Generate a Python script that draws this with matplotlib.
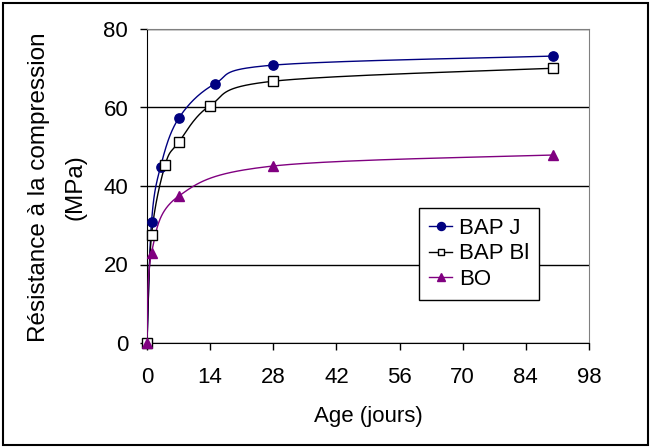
import numpy as np
import matplotlib
matplotlib.use("Agg")
import matplotlib.pyplot as plt
from matplotlib.patches import Rectangle

plt.rcParams['font.family'] = ['Liberation Sans', 'DejaVu Sans']

# data
jours_j = [0, 1, 3, 7, 15, 28, 90]
bap_j = [0, 30.8, 44.9, 57.2, 66.0, 70.8, 73.1]

jours_bl = [0, 1, 4, 7, 14, 28, 90]
bap_bl = [0, 27.5, 45.3, 51.1, 60.5, 66.7, 70.0]

jours_bo = [0, 1, 7, 28, 90]
bo = [0, 23.0, 37.4, 45.1, 47.9]

W, H = 651, 448


def lisse(x, y, n=40):
    # courbe lissee type Excel (Catmull-Rom en Bezier)
    x = np.asarray(x, float)
    y = np.asarray(y, float)
    xs, ys = [], []
    t = np.linspace(0, 1, n)
    for i in range(len(x) - 1):
        p0 = np.array([x[max(i - 1, 0)], y[max(i - 1, 0)]])
        p1 = np.array([x[i], y[i]])
        p2 = np.array([x[i + 1], y[i + 1]])
        p3 = np.array([x[min(i + 2, len(x) - 1)], y[min(i + 2, len(x) - 1)]])
        c1 = p1 + (p2 - p0) / 6
        c2 = p2 - (p3 - p1) / 6
        b = ((1 - t) ** 3)[:, None] * p1 + (3 * (1 - t) ** 2 * t)[:, None] * c1 \
            + (3 * (1 - t) * t ** 2)[:, None] * c2 + (t ** 3)[:, None] * p2
        xs.extend(b[:, 0])
        ys.extend(b[:, 1])
    return xs, ys


fig = plt.figure(figsize=(W / 100, H / 100), dpi=100)
ax = fig.add_axes([147 / W, 105 / H, 442 / W, 314 / H])

series = [
    (jours_j, bap_j, "#000080", "o", "#000080", 6.7, 5.8, "BAP J"),
    (jours_bl, bap_bl, "black", "s", "white", 7.2, 5.0, "BAP Bl"),
    (jours_bo, bo, "#800080", "^", "#800080", 7.0, 6.0, "BO"),
]
for x, y, c, m, fc, ms, ms_leg, lab in series:
    sx, sy = lisse(x, y)
    ax.plot(sx, sy, color=c, lw=1, zorder=3)
    ax.plot(x, y, ls="none", marker=m, color=c, mfc=fc, mec=c, ms=ms, mew=1,
            zorder=4, clip_on=False)
    ax.plot([], [], color=c, marker=m, mfc=fc, mec=c, ms=ms_leg, mew=1, lw=1, label=lab)

ax.set_xlim(0, 98)
ax.set_ylim(0, 80)
ax.set_xticks(np.arange(0, 99, 14))
ax.set_yticks([0, 20, 40, 60, 80])
ax.yaxis.grid(True, color="black", lw=1)
ax.set_axisbelow(True)

for s in ["top", "right"]:
    ax.spines[s].set_color("#808080")
for s in ["left", "bottom"]:
    ax.spines[s].set_color("black")
ax.tick_params(direction="out", length=5, width=1, labelsize=16)
ax.tick_params(axis="y", pad=8.5)
ax.tick_params(axis="x", pad=12)

ax.set_xlabel("Age (jours)", fontsize=16, labelpad=13)

# titre de l'axe Y sur deux lignes
fig.text(45 / W, 1 - 187 / H, "Résistance à la compression", fontsize=17.5,
         rotation=90, rotation_mode="anchor", ha="center", va="baseline")
fig.text(81 / W, 1 - 187 / H, "(MPa)", fontsize=17.5,
         rotation=90, rotation_mode="anchor", ha="center", va="baseline")

leg = ax.legend(loc="upper left", bbox_to_anchor=((419 - 147) / 442, (343 - 208) / 314),
                borderaxespad=0, fontsize=16, frameon=True, fancybox=False,
                edgecolor="black", framealpha=1, handlelength=1.05,
                handletextpad=0.3, borderpad=0.45, labelspacing=0.2)
leg.get_frame().set_linewidth(1)

fig.patches.append(Rectangle((3 / W, 3 / H), 645 / W, 442 / H, transform=fig.transFigure,
                             fill=False, edgecolor="black", lw=1.5))

fig.savefig("out.png", dpi=100)
